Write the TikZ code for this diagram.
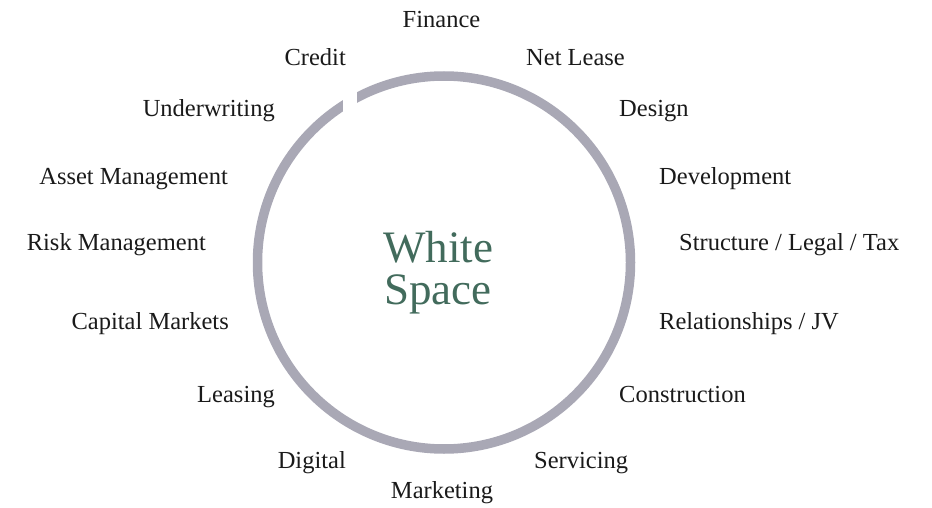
\documentclass[tikz,border=0pt]{standalone}
\usepackage{fontspec}
\setmainfont{Liberation Serif}
\definecolor{ringgrey}{HTML}{A9A8B5}
\definecolor{wsgreen}{HTML}{426B5C}
\definecolor{labelblack}{HTML}{1A1A1A}
\begin{document}
\begin{tikzpicture}[x=1pt,y=-1pt,
  lbl/.style={inner sep=0pt, font=\fontsize{24.5}{28}\selectfont, text=labelblack},
  lblL/.style={lbl, anchor=base east},
  lblR/.style={lbl, anchor=base west},
  lblC/.style={lbl, anchor=base},
  big/.style={inner sep=0pt, anchor=center, align=center, font=\fontsize{45}{42}\selectfont, text=wsgreen}]
\useasboundingbox (0,0) rectangle (932,508);
% ring
\draw[ringgrey, line width=9.5pt] (444,262.5) circle[radius=186.5];
\fill[white] (342.5,80) rectangle (356.5,122);
% centre text
\node[big] (whitespace) at (438,272.5) {White\\Space};
% labels
\node[lblC] (finance) at (441.5,28) {Finance};
\node[lblL] (credit) at (346,66) {Credit};
\node[lblR] (netlease) at (526,66) {Net Lease};
\node[lblL] (underwriting) at (275,117) {Underwriting};
\node[lblR] (design) at (619,117) {Design};
\node[lblL] (asset) at (228,184) {Asset Management};
\node[lblR] (development) at (659,184) {Development};
\node[lblL] (risk) at (206,250.5) {Risk Management};
\node[lblR] (structure) at (679,250.5) {Structure / Legal / Tax};
\node[lblL] (capital) at (229,329) {Capital Markets};
\node[lblR] (relationships) at (659,329) {Relationships / JV};
\node[lblL] (leasing) at (275,402) {Leasing};
\node[lblR] (construction) at (619,402) {Construction};
\node[lblL] (digital) at (346,468) {Digital};
\node[lblR] (servicing) at (534,468) {Servicing};
\node[lblC] (marketing) at (442,498) {Marketing};
\end{tikzpicture}
\end{document}
